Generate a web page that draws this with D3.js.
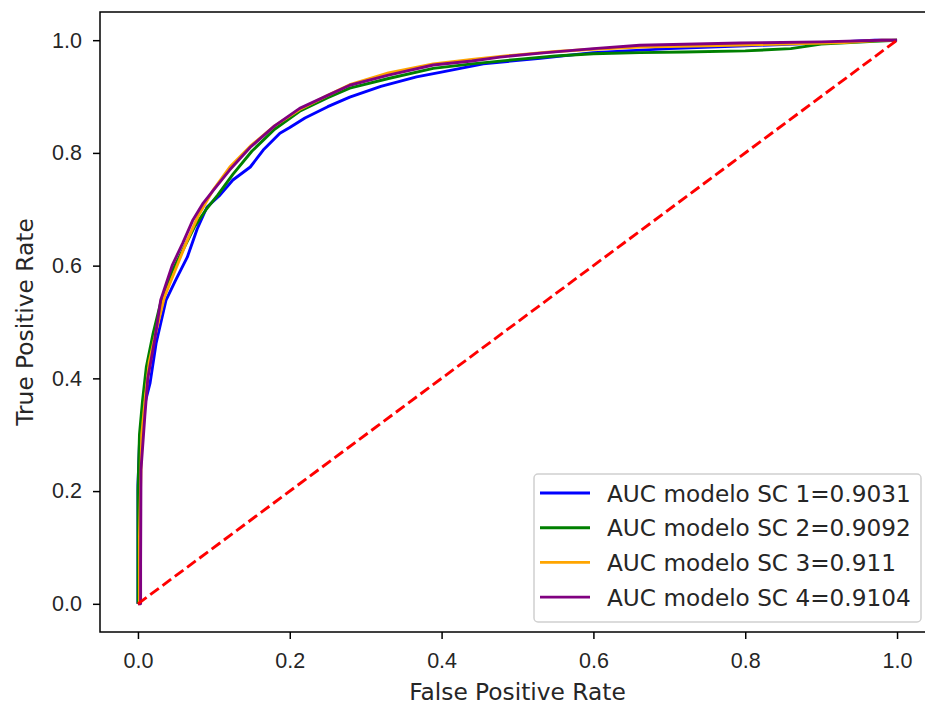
<!DOCTYPE html>
<html lang="en">
<head>
  <meta charset="UTF-8">
  <title>ROC curves</title>
  <script src="https://d3js.org/d3.v7.min.js"></script>
  <style>
    html, body { margin: 0; background: white; overflow: hidden; }
    svg { display: block; font-family: "DejaVu Sans", sans-serif; }
    .tick text { fill: #262626; }
  </style>
</head>
<body>
<script>
  // ROC curves (fpr, tpr)
  const fpr1 = [0, 0, 0.002, 0.007, 0.016, 0.024, 0.037, 0.05, 0.065, 0.078, 0.091, 0.108, 0.125, 0.148, 0.165, 0.187, 0.2, 0.22, 0.25, 0.279, 0.32, 0.367, 0.398, 0.455, 0.53, 0.6, 0.7, 0.8, 0.9, 0.97, 1.0];
  const tpr1 = [0, 0.21, 0.285, 0.344, 0.392, 0.463, 0.539, 0.575, 0.615, 0.665, 0.704, 0.725, 0.752, 0.775, 0.805, 0.835, 0.845, 0.862, 0.882, 0.899, 0.918, 0.935, 0.943, 0.958, 0.968, 0.978, 0.985, 0.99, 0.995, 1.0, 1.0];

  const fpr2 = [0, 0, 0.002, 0.006, 0.011, 0.02, 0.03, 0.045, 0.06, 0.075, 0.09, 0.105, 0.125, 0.15, 0.18, 0.213, 0.25, 0.279, 0.33, 0.389, 0.44, 0.5, 0.55, 0.6, 0.661, 0.72, 0.8, 0.86, 0.9, 0.97, 1.0];
  const tpr2 = [0, 0.2, 0.3, 0.36, 0.42, 0.48, 0.535, 0.59, 0.63, 0.67, 0.7, 0.725, 0.762, 0.803, 0.842, 0.874, 0.898, 0.915, 0.932, 0.95, 0.958, 0.966, 0.972, 0.976, 0.978, 0.979, 0.981, 0.985, 0.993, 0.998, 1.0];

  const fpr3 = [0, 0.002, 0.002, 0.005, 0.01, 0.015, 0.025, 0.035, 0.05, 0.065, 0.08, 0.099, 0.121, 0.148, 0.18, 0.213, 0.25, 0.279, 0.33, 0.389, 0.44, 0.5, 0.55, 0.6, 0.661, 0.75, 0.85, 0.93, 0.98, 1.0];
  const tpr3 = [0, 0, 0.12, 0.3, 0.37, 0.43, 0.49, 0.545, 0.595, 0.645, 0.69, 0.734, 0.775, 0.812, 0.848, 0.877, 0.902, 0.921, 0.942, 0.958, 0.966, 0.974, 0.98, 0.984, 0.988, 0.99, 0.993, 0.996, 1.0, 1.0];

  const fpr4 = [0, 0.0035, 0.0035, 0.004, 0.009, 0.013, 0.022, 0.03, 0.033, 0.045, 0.059, 0.072, 0.086, 0.1, 0.121, 0.148, 0.18, 0.213, 0.25, 0.279, 0.33, 0.389, 0.44, 0.477, 0.53, 0.6, 0.661, 0.793, 0.9, 0.98, 1.0];
  const tpr4 = [0, 0, 0.07, 0.238, 0.332, 0.40, 0.468, 0.539, 0.551, 0.6, 0.64, 0.68, 0.711, 0.735, 0.77, 0.81, 0.848, 0.879, 0.902, 0.92, 0.938, 0.956, 0.963, 0.97, 0.977, 0.985, 0.991, 0.995, 0.997, 1.0, 1.0];

  const labels = ["AUC modelo SC 1=0.9031", "AUC modelo SC 2=0.9092", "AUC modelo SC 3=0.911", "AUC modelo SC 4=0.9104"];
  const colors = ["blue", "green", "orange", "purple"];
  const ticks = [0.0, 0.2, 0.4, 0.6, 0.8, 1.0];

  const series = [[fpr1, tpr1], [fpr2, tpr2], [fpr3, tpr3], [fpr4, tpr4]].map((s, i) => ({
    label: labels[i],
    color: colors[i],
    points: s[0].map((f, j) => [f, s[1][j]])
  }));

  const W = 925, H = 704;
  const plotLeft = 100, plotRight = 935, plotTop = 12, plotBottom = 632;

  const svg = d3.select("body").append("svg")
    .attr("width", W)
    .attr("height", H);

  const x = d3.scaleLinear().domain([-0.05, 1.05]).range([plotLeft, plotRight]);
  const y = d3.scaleLinear().domain([-0.05, 1.05]).range([plotBottom, plotTop]);

  const line = d3.line()
    .x(d => x(d[0]))
    .y(d => y(d[1]));

  series.forEach(s => {
    svg.append("path")
      .datum(s.points)
      .attr("fill", "none")
      .attr("stroke", s.color)
      .attr("stroke-width", 2.9)
      .attr("stroke-linejoin", "round")
      .attr("d", line);
  });

  // chance line
  svg.append("path")
    .datum([[0, 0], [1, 1]])
    .attr("fill", "none")
    .attr("stroke", "red")
    .attr("stroke-width", 2.9)
    .attr("stroke-dasharray", "10.7,4.6")
    .attr("d", line);

  // axes
  const xAxis = svg.append("g")
    .attr("transform", "translate(0," + plotBottom + ")")
    .call(d3.axisBottom(x).tickValues(ticks).tickFormat(d3.format(".1f")).tickSize(7).tickPadding(7));
  xAxis.select(".domain").remove();
  xAxis.selectAll("text").attr("font-size", 21.5).attr("dy", null).attr("y", 36);

  const yAxis = svg.append("g")
    .attr("transform", "translate(" + plotLeft + ",0)")
    .call(d3.axisLeft(y).tickValues(ticks).tickFormat(d3.format(".1f")).tickSize(7).tickPadding(7));
  yAxis.select(".domain").remove();
  yAxis.selectAll("text").attr("font-size", 21.5).attr("x", -18);

  svg.selectAll(".tick line").attr("stroke", "black").attr("stroke-width", 1.5);

  // frame
  svg.append("rect")
    .attr("x", plotLeft)
    .attr("y", plotTop)
    .attr("width", plotRight - plotLeft)
    .attr("height", plotBottom - plotTop)
    .attr("fill", "none")
    .attr("stroke", "black")
    .attr("stroke-width", 1.5);

  svg.append("text")
    .attr("x", (plotLeft + plotRight) / 2)
    .attr("y", 700)
    .attr("text-anchor", "middle")
    .attr("font-size", 23.3)
    .attr("fill", "#262626")
    .text("False Positive Rate");

  svg.append("text")
    .attr("transform", "translate(33," + (plotTop + plotBottom) / 2 + ") rotate(-90)")
    .attr("text-anchor", "middle")
    .attr("font-size", 23.3)
    .attr("fill", "#262626")
    .text("True Positive Rate");

  // legend
  const legend = svg.append("g");
  legend.append("rect")
    .attr("x", 534)
    .attr("y", 474)
    .attr("width", 387)
    .attr("height", 148)
    .attr("rx", 4)
    .attr("fill", "white")
    .attr("fill-opacity", 0.8)
    .attr("stroke", "#d0d0d0")
    .attr("stroke-width", 1.5);

  const item = legend.selectAll(".item")
    .data(series)
    .enter().append("g")
    .attr("class", "item")
    .attr("transform", (d, i) => "translate(0," + (493 + i * 34.7) + ")");

  item.append("line")
    .attr("x1", 540)
    .attr("x2", 590)
    .attr("stroke", d => d.color)
    .attr("stroke-width", 2.9);

  item.append("text")
    .attr("x", 607)
    .attr("y", 8.5)
    .attr("font-size", 23.2)
    .attr("fill", "#262626")
    .text(d => d.label);
</script>
</body>
</html>
